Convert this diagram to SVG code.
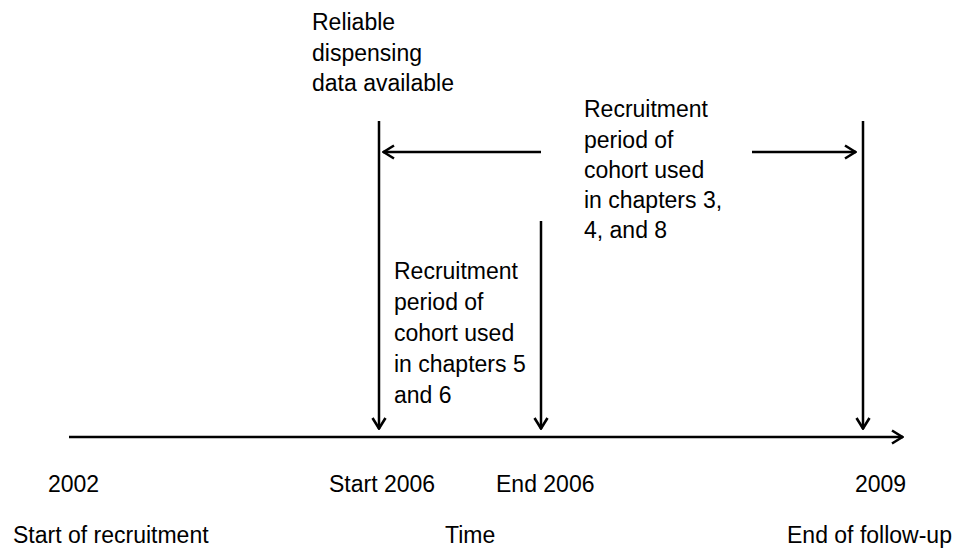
<svg xmlns="http://www.w3.org/2000/svg" width="957" height="548" viewBox="0 0 957 548">
<style>
text{font-family:"Liberation Sans",Arial,sans-serif;font-size:23px;fill:#000}
.c{stroke:#000;stroke-width:2.5;fill:none}
</style>
<defs>
<marker id="ah" viewBox="0 0 14 16" refX="13" refY="8" markerWidth="14" markerHeight="16" markerUnits="userSpaceOnUse" orient="auto">
<path d="M2,1.5 L12.5,8 L2,14.5" fill="none" stroke="#000" stroke-width="2.6"/>
</marker>
</defs>
<rect width="957" height="548" fill="#fff"/>
<g id="connectors">
<line class="c" x1="69" y1="437" x2="903" y2="437" marker-end="url(#ah)"/>
<line class="c" x1="379" y1="121" x2="379" y2="429" marker-end="url(#ah)"/>
<line class="c" x1="541" y1="221" x2="541" y2="429" marker-end="url(#ah)"/>
<line class="c" x1="863" y1="121" x2="863" y2="429" marker-end="url(#ah)"/>
<line class="c" x1="541" y1="152" x2="383" y2="152" marker-end="url(#ah)"/>
<line class="c" x1="752" y1="152" x2="856" y2="152" marker-end="url(#ah)"/>
</g>
<g id="reliable">
<text x="312" y="30">Reliable</text>
<text x="312" y="61">dispensing</text>
<text x="312" y="91">data available</text>
</g>
<g id="cohort348">
<text x="584" y="117">Recruitment</text>
<text x="584" y="148">period of</text>
<text x="584" y="178">cohort used</text>
<text x="584" y="208">in chapters 3,</text>
<text x="584" y="238">4, and 8</text>
</g>
<g id="cohort56">
<text x="394" y="279">Recruitment</text>
<text x="394" y="310">period of</text>
<text x="394" y="341">cohort used</text>
<text x="394" y="372">in chapters 5</text>
<text x="394" y="403">and 6</text>
</g>
<g id="labels">
<text x="48" y="492">2002</text>
<text x="329" y="492">Start 2006</text>
<text x="496" y="492">End 2006</text>
<text x="855" y="492">2009</text>
<text x="13" y="543">Start of recruitment</text>
<text x="445" y="543">Time</text>
<text x="787" y="543">End of follow-up</text>
</g>
</svg>
